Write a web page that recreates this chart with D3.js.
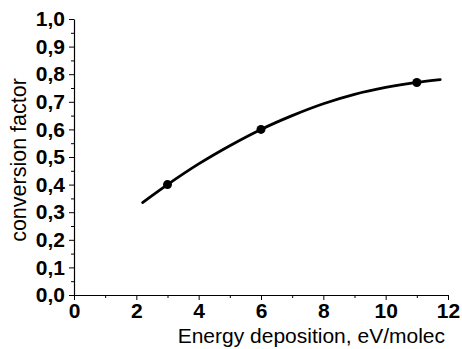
<!DOCTYPE html>
<html>
<head>
<meta charset="utf-8">
<script src="https://cdn.jsdelivr.net/npm/d3@7"></script>
<style>
  body { margin: 0; background: #fff; }
  svg { display: block; font-family: "Liberation Sans", Arial, sans-serif; }
</style>
</head>
<body>
<div id="chart"></div>
<script>
// measured points
const pointX = [3, 6, 11];
const pointY = [0.40, 0.60, 0.77];

// fitted curve
const curveX = [2.2, 3, 4, 5, 6, 7, 8, 9, 10, 11, 11.75];
const curveY = [0.335, 0.40, 0.475, 0.541, 0.60, 0.650, 0.693, 0.727, 0.752, 0.77, 0.78];

const xTicks = [0, 2, 4, 6, 8, 10, 12];
const yTicks = [0, 0.1, 0.2, 0.3, 0.4, 0.5, 0.6, 0.7, 0.8, 0.9, 1.0];

const width = 462, height = 349;
const margin = { top: 19, right: 14, bottom: 54, left: 74 };

const svg = d3.select("#chart").append("svg")
  .attr("width", width)
  .attr("height", height);

const x = d3.scaleLinear().domain([0, 12]).range([margin.left, width - margin.right]);
const y = d3.scaleLinear().domain([0, 1]).range([height - margin.bottom, margin.top]);

const fmt = d => d3.format(".1f")(d).replace(".", ",");

// minor ticks first, majors on top
svg.append("g")
  .attr("transform", `translate(0,${y(0)})`)
  .call(d3.axisBottom(x).tickValues(d3.range(1, 12, 2)).tickSize(3).tickFormat(""))
  .call(g => g.select(".domain").remove());

svg.append("g")
  .attr("transform", `translate(${x(0)},0)`)
  .call(d3.axisLeft(y).tickValues(d3.range(0.05, 1, 0.1)).tickSize(3).tickFormat(""))
  .call(g => g.select(".domain").remove());

const xAxis = svg.append("g")
  .attr("transform", `translate(0,${y(0)})`)
  .call(d3.axisBottom(x).tickValues(xTicks).tickSize(5).tickSizeOuter(0).tickPadding(3).tickFormat(d3.format("d")));

const yAxis = svg.append("g")
  .attr("transform", `translate(${x(0)},0)`)
  .call(d3.axisLeft(y).tickValues(yTicks).tickSize(5).tickSizeOuter(0).tickPadding(4).tickFormat(fmt));

svg.selectAll(".tick line").attr("stroke", "#000").attr("stroke-width", 1);
svg.selectAll(".domain").attr("stroke", "#000").attr("stroke-width", 1.2);
svg.selectAll(".tick text")
  .attr("fill", "#000")
  .style("font-size", "21px")
  .style("font-weight", "bold");

// fitted curve
const curve = curveX.map((v, i) => ({ x: v, y: curveY[i] }));
svg.append("path")
  .datum(curve)
  .attr("fill", "none")
  .attr("stroke", "#000")
  .attr("stroke-width", 2.8)
  .attr("stroke-linecap", "round")
  .attr("d", d3.line().x(d => x(d.x)).y(d => y(d.y)).curve(d3.curveMonotoneX));

// points
svg.append("g")
  .selectAll("circle")
  .data(pointX.map((v, i) => ({ x: v, y: pointY[i] })))
  .join("circle")
  .attr("cx", d => x(d.x))
  .attr("cy", d => y(d.y))
  .attr("r", 4.5)
  .attr("fill", "#000");

// axis titles
svg.append("text")
  .attr("x", 445)
  .attr("y", 343)
  .attr("text-anchor", "end")
  .style("font-size", "21px")
  .text("Energy deposition, eV/molec");

svg.append("text")
  .attr("transform", "translate(26,160) rotate(-90)")
  .attr("text-anchor", "middle")
  .style("font-size", "21.5px")
  .text("conversion factor");
</script>
</body>
</html>
